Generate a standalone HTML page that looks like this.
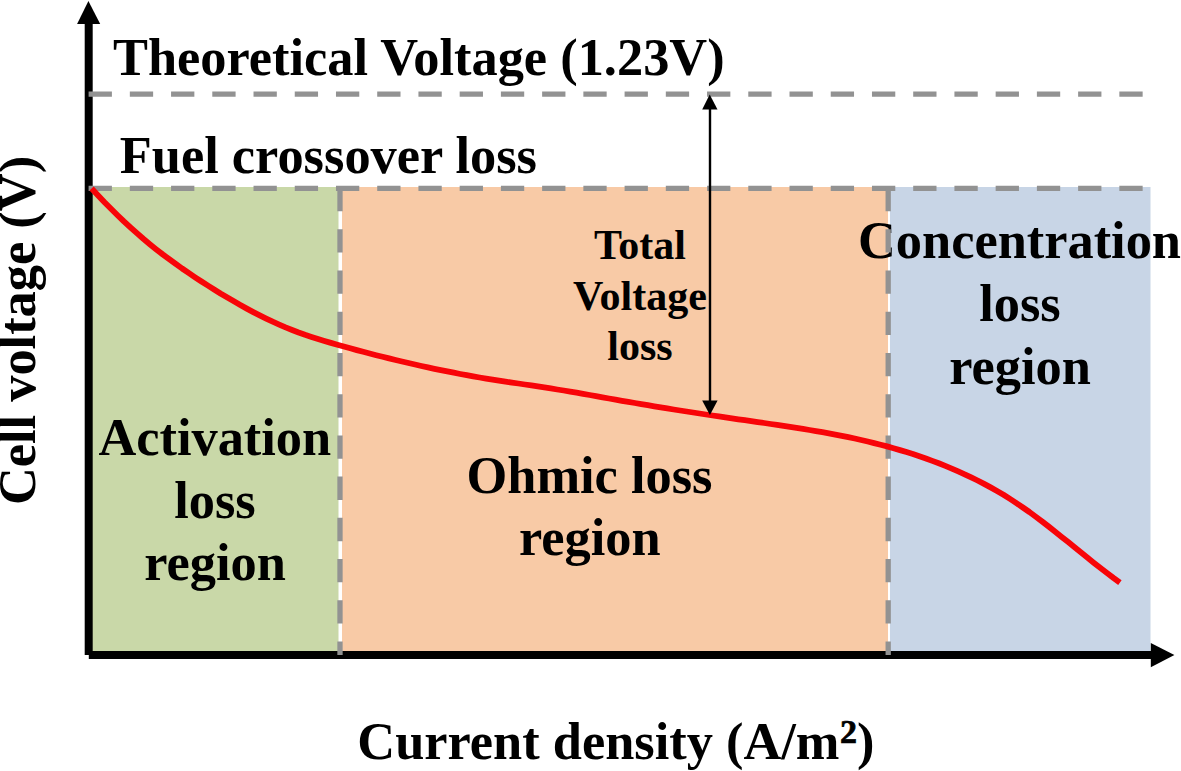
<!DOCTYPE html>
<html><head><meta charset="utf-8"><style>
html,body{margin:0;padding:0;background:#fff;}
body{width:1181px;height:771px;overflow:hidden;position:relative;}
svg{position:absolute;left:0;top:0;}
text{font-family:"Liberation Serif",serif;font-weight:bold;fill:#000;}
</style></head><body>
<svg width="1181" height="771" viewBox="0 0 1181 771">
<rect x="0" y="0" width="1181" height="771" fill="#fff"/>
<rect x="89" y="187" width="249.5" height="466" fill="#C9D8A8"/>
<rect x="342" y="187" width="546" height="466" fill="#F8CAA6"/>
<rect x="890" y="187" width="260.5" height="466" fill="#C8D5E6"/>

<line x1="88.7" y1="22" x2="88.7" y2="655" stroke="#000" stroke-width="8"/>
<polygon points="88.4,1 77.1,24 100.2,24" fill="#000"/>
<line x1="88.8" y1="655" x2="1152" y2="655" stroke="#000" stroke-width="8"/>
<polygon points="1174.4,655 1150.8,643 1150.8,667.2" fill="#000"/>
<text x="113" y="75" font-size="52.4">Theoretical Voltage (1.23V)</text>
<text x="119.8" y="172.5" font-size="52.4">Fuel crossover loss</text>
<g font-size="42" text-anchor="middle">
<text x="640" y="259">Total</text>
<text x="640" y="309.5">Voltage</text>
<text x="640" y="360">loss</text>
</g>
<g font-size="52.4" text-anchor="middle">
<text x="1019.5" y="257.6">Concentration</text>
<text x="1020" y="320.7">loss</text>
<text x="1020" y="383.8">region</text>
<text x="214.8" y="454.7">Activation</text>
<text x="215" y="517.5">loss</text>
<text x="215" y="579.7">region</text>
<text x="589.5" y="492.6">Ohmic loss</text>
<text x="589.8" y="555">region</text>
</g>
<text x="357.3" y="758.8" font-size="52.4">Current density (A/m<tspan font-size="34" font-weight="bold" dx="0.5" dy="-15.6" stroke="#000" stroke-width="0.7">2</tspan><tspan font-weight="bold" dy="15.6">)</tspan></text>
<text transform="translate(35 330.5) rotate(-90)" x="0" y="0" font-size="52.4" text-anchor="middle">Cell voltage (V)</text>
<g stroke="#929292" stroke-width="5.3" stroke-dasharray="23.3 17.93" fill="none">
<line x1="88.6" y1="94.2" x2="1143" y2="94.2"/>
<line x1="88.6" y1="188.3" x2="1143" y2="188.3"/>
<line x1="340" y1="188" x2="340" y2="655"/>
<line x1="888.2" y1="188" x2="888.2" y2="655"/>
</g>
<path d="M91.6 188.5 L98.1 195.4 L104.5 202.2 L111.0 208.8 L117.5 215.2 L123.9 221.4 L130.4 227.4 L136.9 233.2 L143.3 238.8 L149.8 244.2 L156.3 249.4 L162.7 254.4 L169.2 259.2 L175.7 263.9 L182.1 268.5 L188.6 272.9 L195.1 277.3 L201.5 281.5 L208.0 285.6 L214.5 289.7 L220.9 293.7 L227.4 297.5 L233.9 301.3 L240.3 305.0 L246.8 308.6 L253.3 312.1 L259.7 315.4 L266.2 318.6 L272.7 321.7 L279.2 324.6 L285.6 327.4 L292.1 330.0 L298.6 332.5 L305.0 334.8 L311.5 336.9 L318.0 339.0 L324.4 341.0 L330.9 342.9 L337.4 344.7 L343.8 346.5 L350.3 348.3 L356.8 350.1 L363.2 351.8 L369.7 353.5 L376.2 355.2 L382.6 356.8 L389.1 358.4 L395.6 360.0 L402.0 361.5 L408.5 363.0 L415.0 364.5 L421.4 366.0 L427.9 367.4 L434.4 368.8 L440.8 370.1 L447.3 371.4 L453.8 372.7 L460.2 374.0 L466.7 375.2 L473.2 376.4 L479.6 377.5 L486.1 378.6 L492.6 379.6 L499.0 380.7 L505.5 381.7 L512.0 382.6 L518.4 383.5 L524.9 384.5 L531.4 385.4 L537.8 386.4 L544.3 387.4 L550.8 388.4 L557.2 389.5 L563.7 390.5 L570.2 391.6 L576.6 392.7 L583.1 393.9 L589.6 395.0 L596.0 396.2 L602.5 397.3 L609.0 398.5 L615.5 399.6 L621.9 400.8 L628.4 401.9 L634.9 403.0 L641.3 404.1 L647.8 405.2 L654.3 406.3 L660.7 407.4 L667.2 408.4 L673.7 409.5 L680.1 410.5 L686.6 411.5 L693.1 412.5 L699.5 413.5 L706.0 414.5 L712.5 415.5 L718.9 416.4 L725.4 417.4 L731.9 418.3 L738.3 419.3 L744.8 420.2 L751.3 421.2 L757.7 422.1 L764.2 423.0 L770.7 424.0 L777.1 424.9 L783.6 425.9 L790.1 426.9 L796.5 427.9 L803.0 428.9 L809.5 430.0 L815.9 431.1 L822.4 432.2 L828.9 433.4 L835.3 434.6 L841.8 435.8 L848.3 437.2 L854.7 438.5 L861.2 440.0 L867.7 441.5 L874.1 443.1 L880.6 444.7 L887.1 446.4 L893.5 448.2 L900.0 450.1 L906.5 452.1 L912.9 454.1 L919.4 456.3 L925.9 458.5 L932.3 460.9 L938.8 463.3 L945.3 465.9 L951.8 468.6 L958.2 471.4 L964.7 474.3 L971.2 477.4 L977.6 480.5 L984.1 483.9 L990.6 487.4 L997.0 491.0 L1003.5 494.8 L1010.0 498.9 L1016.4 503.1 L1022.9 507.5 L1029.4 512.0 L1035.8 516.8 L1042.3 521.6 L1048.8 526.6 L1055.2 531.7 L1061.7 536.9 L1068.2 542.1 L1074.6 547.3 L1081.1 552.5 L1087.6 557.7 L1094.0 562.9 L1100.5 568.0 L1107.0 573.0 L1113.4 577.9 L1119.9 582.6" stroke="#F80408" stroke-width="5.8" fill="none" stroke-linejoin="round"/>
<line x1="710" y1="107" x2="710" y2="402" stroke="#000" stroke-width="2.4"/>
<polygon points="709.7,94.6 702.2,109.6 717.5,109.6" fill="#000"/>
<polygon points="709.9,415 702.2,400.6 717.6,400.6" fill="#000"/>

</svg>
</body></html>
